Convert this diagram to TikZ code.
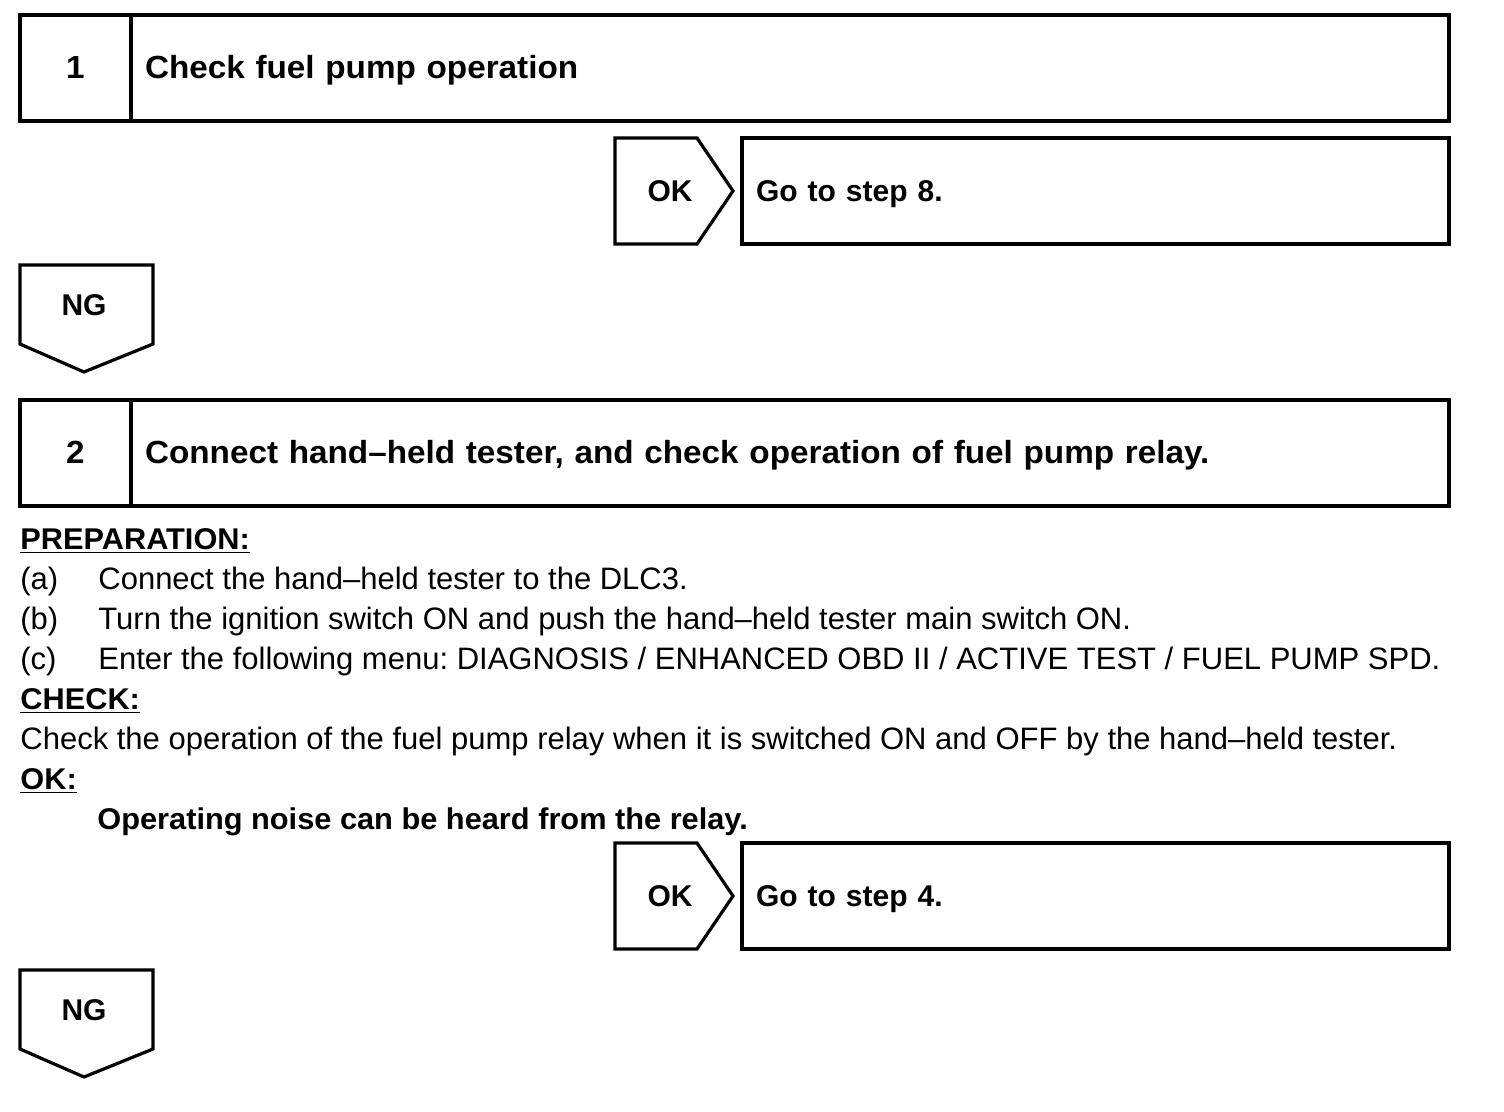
\documentclass[tikz,border=0pt]{standalone}
\usepackage{fontspec}
\setmainfont{Liberation Sans}
\newfontfamily\headfont[FakeStretch=1.04]{Liberation Sans}
\newfontfamily\tagfont{Liberation Sans}
\newfontfamily\bodyfont[FakeStretch=1.0]{Liberation Sans}
\newfontfamily\notefont[FakeStretch=1.025]{Liberation Sans}
\frenchspacing
\usetikzlibrary{positioning}
\tikzset{
  frame/.style={draw=black, line width=1.6pt},
  head/.style={font=\headfont\bfseries\fontsize{16}{19}\selectfont, text height=11pt, text depth=0pt},
  tag/.style={font=\tagfont\bfseries\fontsize{15}{18}\selectfont, text height=10.3pt, text depth=0pt},
  numcell/.style={frame, head, minimum width=55.5pt, minimum height=53pt, inner sep=0pt, outer sep=0pt},
  titlecell/.style={frame, head, text width=645pt, align=left, minimum height=53pt, inner xsep=7pt, inner ysep=0pt, outer sep=0pt},
  gocell/.style={frame, tag, text width=339.5pt, align=left, minimum height=53pt, inner xsep=7pt, inner ysep=0pt, outer sep=0pt},
  body/.style={font=\bodyfont\fontsize{15.5}{18}\selectfont, inner sep=0pt, anchor=base west},
  bodybold/.style={body, font=\notefont\bfseries\fontsize{15}{18}\selectfont},
}
\newcommand{\stepbox}[4]{%
  \node[numcell, anchor=north west] (#1-num) at (20,#2) {#3};%
  \node[titlecell, right=0pt of #1-num] (#1-title) {#4};%
}
\newcommand{\okbranch}[3]{%
  \draw[frame] (615,#2) -- (697,#2) -- (733,#2+53) -- (697,#2+106) -- (615,#2+106) -- cycle;%
  \node[tag, inner sep=0pt] (#1-ok) at (670,#2+53) {OK};%
  \node[gocell, anchor=north west] (#1-go) at (742,#2) {#3};%
}
\newcommand{\ngbranch}[2]{%
  \draw[frame] (20,#2) -- (153,#2) -- (153,#2+79) -- (84,#2+107) -- (20,#2+79) -- cycle;%
  \node[tag, inner sep=0pt] (#1-ng) at (84,#2+40) {NG};%
}

\begin{document}
\begin{tikzpicture}[x=0.5pt, y=-0.5pt]
  \useasboundingbox (0,0) rectangle (1504,1112);

  % --- step 1 ------------------------------------------------------------
  \stepbox{step1}{15}{1}{Check fuel pump operation}
  \okbranch{res1}{138}{Go to step 8.}
  \ngbranch{res1}{265}

  % --- step 2 ------------------------------------------------------------
  \stepbox{step2}{400}{2}{Connect hand–held tester, and check operation of fuel pump relay.}

  \node[bodybold] (prep) at (20,549) {\underline{PREPARATION:}};
  \node[body] (prep-a-lbl) at (20,589) {(a)};
  \node[body] (prep-a) at (98,589) {Connect the hand–held tester to the DLC3.};
  \node[body] (prep-b-lbl) at (20,629) {(b)};
  \node[body] (prep-b) at (98,629) {Turn the ignition switch ON and push the hand–held tester main switch ON.};
  \node[body] (prep-c-lbl) at (20,669) {(c)};
  \node[body] (prep-c) at (98,669) {Enter the following menu: DIAGNOSIS / ENHANCED OBD II / ACTIVE TEST / FUEL PUMP SPD.};

  \node[bodybold] (check) at (20,709) {\underline{CHECK:}};
  \node[body] (check-txt) at (20,749) {Check the operation of the fuel pump relay when it is switched ON and OFF by the hand–held tester.};
  \node[bodybold] (okspec) at (20,789) {\underline{OK:}};
  \node[bodybold] (okspec-txt) at (97,829) {Operating noise can be heard from the relay.};

  \okbranch{res2}{843}{Go to step 4.}
  \ngbranch{res2}{970}

\end{tikzpicture}
\end{document}
